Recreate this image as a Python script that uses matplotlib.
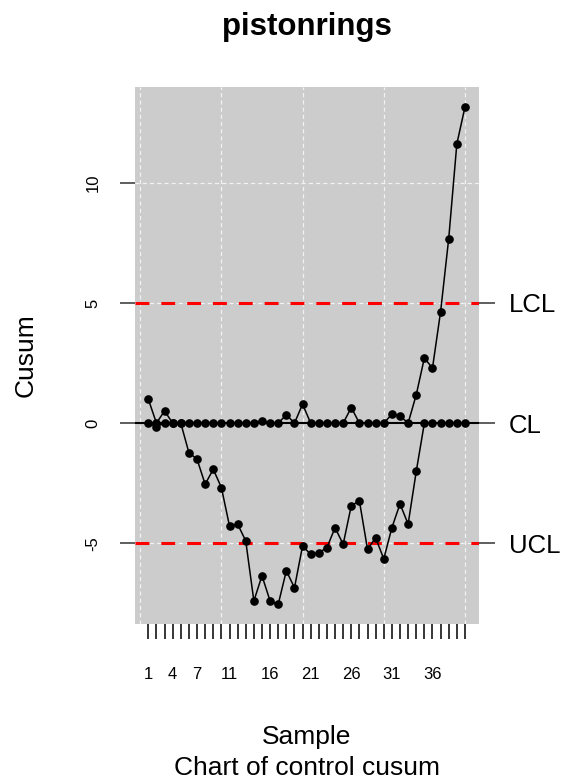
import matplotlib
matplotlib.use("Agg")
import matplotlib.pyplot as plt

plt.rcParams['font.family'] = ['Liberation Sans', 'DejaVu Sans']
plt.rcParams['lines.scale_dashes'] = False

title = "pistonrings"
samples = list(range(1, 41))
upper = [1.0, 0.0, 0.51, 0, 0, 0, 0, 0, 0, 0, 0, 0, 0, 0, 0.11, 0, 0, 0.35, 0, 0.79,
         0, 0, 0, 0, 0, 0.65, 0, 0, 0, 0, 0.37, 0.30, 0.0, 1.18, 2.71, 2.29, 4.64,
         7.68, 11.62, 13.15]
lower = [0, -0.14, 0, 0, 0, -1.23, -1.5, -2.54, -1.92, -2.68, -4.28, -4.2, -4.9,
         -7.4, -6.35, -7.4, -7.54, -6.14, -6.85, -5.11, -5.46, -5.39, -5.18, -4.35,
         -5.04, -3.43, -3.24, -5.25, -4.77, -5.65, -4.35, -3.36, -4.2, -2.01, 0, 0,
         0, 0, 0, 0]
center = 0
limits = [-5, 5]
limit_labels = ["UCL", "CL", "LCL"]
xtick_labels = [1, 4, 7, 11, 16, 21, 26, 31, 36]
yticks = [-5, 0, 5, 10]

W, H = 561, 780
fig = plt.figure(figsize=(W / 100, H / 100), dpi=100)
l, r, t, b = 135, 479, 86.7, 624.3
ax = fig.add_axes([l / W, 1 - b / H, (r - l) / W, (b - t) / H])
ax.set_facecolor('#CCCCCC')
for s in ax.spines.values():
    s.set_visible(False)
ax.set_xlim(-0.64, 41.73)
ax.set_ylim(-8.37, 14.0)

# grid
for gx in [0, 10, 20, 30, 40]:
    ax.axvline(gx, color='#F2F2F2', lw=0.9, dashes=(3, 2.2), zorder=1)
for gy in yticks:
    ax.axhline(gy, color='#F2F2F2', lw=0.9, dashes=(3, 2.2), zorder=1)

# limits
for lim in limits:
    ax.axhline(lim, color='#FF0000', lw=2.2, dashes=(10, 8.6), zorder=2)
ax.axhline(center, color='black', lw=1.5, zorder=2)

ax.plot(samples, upper, color='black', lw=1.1, marker='o', ms=5.2, zorder=4)
ax.plot(samples, lower, color='black', lw=1.1, marker='o', ms=5.2, zorder=4)

# x ticks
ax.set_xticks(samples)
ax.set_xticklabels([str(s) if s in xtick_labels else '' for s in samples], fontsize=12)
ax.tick_params(axis='x', length=10.8, width=1.1, color='black', pad=20)

# y ticks
ax.set_yticks(yticks)
ax.set_yticklabels([str(v) for v in yticks], fontsize=12, rotation=90, va='center')
ax.tick_params(axis='y', length=10.8, width=1.1, color='#333333', pad=14)

# right axis
ax2 = ax.twinx()
ax2.set_ylim(ax.get_ylim())
for s in ax2.spines.values():
    s.set_visible(False)
ax2.set_yticks([limits[0], center, limits[1]])
ax2.set_yticklabels(limit_labels, fontsize=18.5)
ax2.tick_params(axis='y', length=11.5, width=1.1, color='#333333', pad=10)

cx = (l + r) / 2 / W
fig.text(cx, 1 - 27 / H, title, fontsize=22.5, fontweight='bold', ha='center', va='center')
fig.text(cx, 1 - 737 / H, "Sample", fontsize=19, ha='center', va='center')
fig.text(cx, 1 - 768 / H, "Chart of control cusum", fontsize=19, ha='center', va='center')
fig.text(26 / W, 1 - 355.5 / H, "Cusum", fontsize=19, rotation=90, ha='center', va='center')

fig.savefig("out.png", dpi=100)
